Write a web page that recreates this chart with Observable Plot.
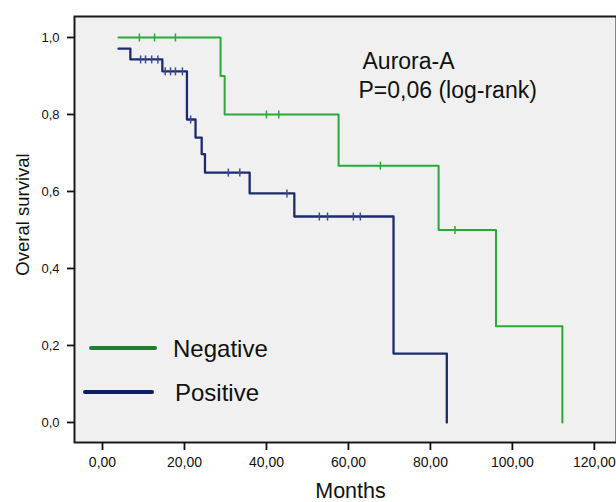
<!DOCTYPE html>
<html>
<head>
<meta charset="utf-8">
<script src="https://cdn.jsdelivr.net/npm/d3@7"></script>
<script src="https://cdn.jsdelivr.net/npm/@observablehq/plot@0.6"></script>
<style>
  html, body { margin: 0; padding: 0; background: #fff; }
  #wrap { position: relative; width: 616px; height: 502px; font-family: "Liberation Sans", Arial, sans-serif; }
  #legend { position: absolute; left: 0; top: 0; width: 616px; height: 502px; pointer-events: none; }
</style>
</head>
<body>
<div id="wrap"></div>
<script>
// ---- data ----
const groups = ["Negative", "Positive"];
const groupColors = ["#2aa83a", "#1d2a6e"];
const legendColors = ["#1e7f2c", "#0f1d66"];

const negTimes = [3.9, 28.8, 29.8, 57.6, 82, 96, 112.2];
const negSurv  = [1.0, 0.9, 0.8, 0.667, 0.5, 0.25, 0.0];
const negCensor = [9, 12.7, 17.8, 40, 43, 67.8, 86];

const posTimes = [3.9, 6.8, 14.6, 20.6, 22.7, 24.2, 25, 35.9, 46.8, 71, 84];
const posSurv  = [0.971, 0.943, 0.912, 0.787, 0.74, 0.697, 0.649, 0.595, 0.535, 0.179, 0.0];
const posCensor = [9.3, 10.5, 12, 13.5, 15.3, 16.6, 17.8, 19.5, 21.5, 30.7, 33.5, 45, 52.9, 54.9, 61.2, 62.9];

const xTicks = [0, 20, 40, 60, 80, 100, 120];
const xTickLabels = ["0,00", "20,00", "40,00", "60,00", "80,00", "100,00", "120,00"];
const yTicks = [0, 0.2, 0.4, 0.6, 0.8, 1.0];
const yTickLabels = ["0,0", "0,2", "0,4", "0,6", "0,8", "1,0"];

const annotation = ["Aurora-A", "P=0,06 (log-rank)"];

// ---- build tables ----
const curve = (times, surv, g) => times.map((t, i) => ({t, s: surv[i], g}));
const survAt = (times, surv, t) => { let v = surv[0]; for (let i = 0; i < times.length; i++) if (times[i] <= t) v = surv[i]; return v; };
const cens = (times, surv, c, g) => c.map(t => ({t, s: survAt(times, surv, t), g}));

const negLine = curve(negTimes, negSurv, groups[0]);
const posLine = curve(posTimes, posSurv, groups[1]);
const negC = cens(negTimes, negSurv, negCensor, groups[0]);
const posC = cens(posTimes, posSurv, posCensor, groups[1]);

const vtick = { draw(ctx, size) { const h = Math.sqrt(size / Math.PI); ctx.moveTo(0, -h); ctx.lineTo(0, h); } };

const font = "Liberation Sans, Arial, sans-serif";

const chart = Plot.plot({
  width: 616,
  height: 502,
  marginLeft: 74,
  marginRight: 0,
  marginTop: 16,
  marginBottom: 60,
  style: { fontFamily: font, background: "#fff", color: "#111" },
  x: { domain: [-6.83, 125.4] },
  y: { domain: [-0.052, 1.0545] },
  marks: [
    Plot.frame({ fill: "#f0f0f0" }),
    Plot.line(negLine, { x: "t", y: "s", curve: "step-after", stroke: groupColors[0], strokeWidth: 2 }),
    Plot.line(posLine, { x: "t", y: "s", curve: "step-after", stroke: groupColors[1], strokeWidth: 2.3 }),
    Plot.dot(negC, { x: "t", y: "s", symbol: vtick, r: 4, stroke: groupColors[0], strokeWidth: 1.5, fill: "none" }),
    Plot.dot(posC, { x: "t", y: "s", symbol: vtick, r: 4, stroke: "#3a4aa0", strokeWidth: 1.5, fill: "none" }),
    Plot.frame({ stroke: "#1a1a1a", strokeWidth: 2 }),
    Plot.axisX({ ticks: xTicks, tickFormat: d => xTickLabels[xTicks.indexOf(d)], tickSize: 8, tickPadding: 7, fontSize: 14, strokeWidth: 1.8, label: null }),
    Plot.axisY({ ticks: yTicks, tickFormat: d => yTickLabels[yTicks.findIndex(v => Math.abs(v - d) < 1e-9)], tickSize: 7, tickPadding: 8, fontSize: 13, strokeWidth: 1.8, label: null }),
    Plot.text(["Months"], { frameAnchor: "bottom", textAnchor: "middle", dx: 5, dy: 49, lineAnchor: "middle", fontSize: 21.5, fill: "#111" }),
    Plot.text(["Overal survival"], { frameAnchor: "left", textAnchor: "middle", dx: -51, dy: -15, rotate: -90, lineAnchor: "middle", fontSize: 18.5, fill: "#111" }),
    Plot.text([annotation[0]], { frameAnchor: "top-left", dx: 288, dy: 45, textAnchor: "start", lineAnchor: "middle", fontSize: 23, fill: "#111" }),
    Plot.text([annotation[1]], { frameAnchor: "top-left", dx: 284, dy: 74, textAnchor: "start", lineAnchor: "middle", fontSize: 23, fill: "#111" })
  ]
});

const wrap = document.getElementById("wrap");
wrap.appendChild(chart);

// legend overlay
const ns = "http://www.w3.org/2000/svg";
const leg = document.createElementNS(ns, "svg");
leg.setAttribute("id", "legend");
leg.setAttribute("width", 616);
leg.setAttribute("height", 502);
const legRows = [
  { x1: 91, x2: 155, y: 348, tx: 173 },
  { x1: 85, x2: 152, y: 392, tx: 175 }
];
groups.forEach((g, i) => {
  const r = legRows[i];
  const ln = document.createElementNS(ns, "line");
  ln.setAttribute("x1", r.x1); ln.setAttribute("x2", r.x2);
  ln.setAttribute("y1", r.y); ln.setAttribute("y2", r.y);
  ln.setAttribute("stroke", legendColors[i]); ln.setAttribute("stroke-width", 4);
  ln.setAttribute("stroke-linecap", "round");
  leg.appendChild(ln);
  const tx = document.createElementNS(ns, "text");
  tx.setAttribute("x", r.tx); tx.setAttribute("y", r.y);
  tx.setAttribute("dy", "0.36em");
  tx.setAttribute("font-size", 24);
  tx.setAttribute("font-family", font);
  tx.setAttribute("fill", "#111");
  tx.textContent = g;
  leg.appendChild(tx);
});
wrap.appendChild(leg);
</script>
</body>
</html>
